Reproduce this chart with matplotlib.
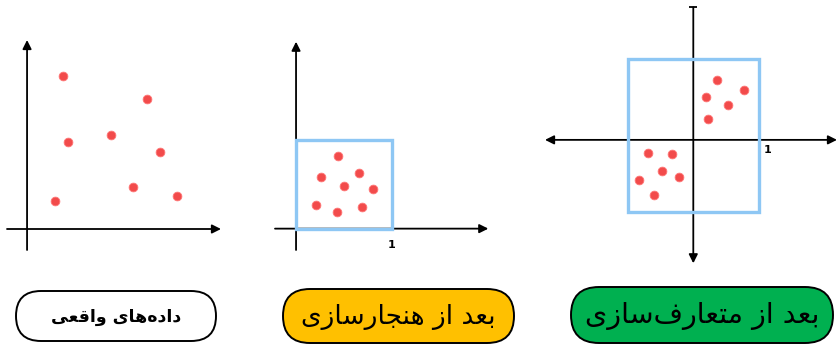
import matplotlib
matplotlib.use("Agg")
import matplotlib.pyplot as plt
from matplotlib.patches import Rectangle, FancyBboxPatch

# 数据
raw_x = [1.8, 6.0, 4.2, 2.05, 6.65, 5.3, 1.4, 7.5]
raw_y = [7.65, 6.5, 4.7, 4.35, 3.85, 2.1, 1.4, 1.65]

norm_x = [0.44, 0.26, 0.66, 0.50, 0.80, 0.21, 0.43, 0.69]
norm_y = [0.82, 0.58, 0.63, 0.48, 0.44, 0.27, 0.19, 0.24]

std_x = [0.365, 0.78, 0.19, 0.53, 0.23, -0.69, -0.33, -0.48, -0.22, -0.83, -0.60]
std_y = [0.78, 0.65, 0.56, 0.46, 0.28, -0.17, -0.18, -0.415, -0.49, -0.53, -0.73]

norm_box = [0, 1, 0, 1]          # x0, x1, y0, y1
std_box = [-1, 1, -0.95, 1.06]

labels = ["داده‌های واقعی", "بعد از هنجارسازی", "بعد از متعارف‌سازی"]
label_colors = ["white", "#FFC000", "#00B050"]

DOT = "#F24B4B"
BOX = "#8EC7F4"

# Arabic letter forms: isolated, final, initial, medial
FORMS = {
    "ا": ("\uFE8D", "\uFE8E", None, None),
    "ب": ("\uFE8F", "\uFE90", "\uFE91", "\uFE92"),
    "ت": ("\uFE95", "\uFE96", "\uFE97", "\uFE98"),
    "ج": ("\uFE9D", "\uFE9E", "\uFE9F", "\uFEA0"),
    "د": ("\uFEA9", "\uFEAA", None, None),
    "ر": ("\uFEAD", "\uFEAE", None, None),
    "ز": ("\uFEAF", "\uFEB0", None, None),
    "س": ("\uFEB1", "\uFEB2", "\uFEB3", "\uFEB4"),
    "ع": ("\uFEC9", "\uFECA", "\uFECB", "\uFECC"),
    "ف": ("\uFED1", "\uFED2", "\uFED3", "\uFED4"),
    "ق": ("\uFED5", "\uFED6", "\uFED7", "\uFED8"),
    "م": ("\uFEE1", "\uFEE2", "\uFEE3", "\uFEE4"),
    "ن": ("\uFEE5", "\uFEE6", "\uFEE7", "\uFEE8"),
    "ه": ("\uFEE9", "\uFEEA", "\uFEEB", "\uFEEC"),
    "و": ("\uFEED", "\uFEEE", None, None),
    "ی": ("\uFEEF", "\uFEF0", "\uFEF3", "\uFEF4"),
}


def shape(text):
    """手动连写 + 反向 (matplotlib has no RTL shaping)"""
    out = []
    for i, ch in enumerate(text):
        if ch not in FORMS:
            if ch != "\u200c":
                out.append(ch)
            continue
        prev = text[i - 1] if i > 0 else None
        nxt = text[i + 1] if i + 1 < len(text) else None
        jp = prev in FORMS and FORMS[prev][2] is not None
        jn = FORMS[ch][2] is not None and nxt in FORMS
        iso, fin, ini, med = FORMS[ch]
        if jp and jn:
            out.append(med)
        elif jp:
            out.append(fin)
        elif jn:
            out.append(ini)
        else:
            out.append(iso)
    return "".join(out[::-1])


W, H = 837, 346
fig = plt.figure(figsize=(W / 100, H / 100), dpi=100)


def add_ax(x0, y0, x1, y1, xlim, ylim):
    ax = fig.add_axes([x0 / W, 1 - y1 / H, (x1 - x0) / W, (y1 - y0) / H])
    ax.set_xlim(*xlim)
    ax.set_ylim(*ylim)
    ax.axis("off")
    return ax


def arrow(ax, tail, tip, style="-|>"):
    ax.annotate("", xy=tip, xytext=tail,
                arrowprops=dict(arrowstyle=style, color="black", lw=1.3,
                                mutation_scale=13, shrinkA=0, shrinkB=0),
                annotation_clip=False)


def dots(ax, xs, ys):
    ax.plot(xs, ys, "o", color=DOT, markersize=6.3, markeredgecolor="#F77",
            markeredgewidth=0.6, clip_on=False, zorder=5)


# 原始数据
ax1 = add_ax(7, 40, 221, 250, (-1.0, 9.67), (-1.05, 9.45))
arrow(ax1, (-1.0, 0), (9.67, 0))
arrow(ax1, (0, -1.05), (0, 9.45))
dots(ax1, raw_x, raw_y)

# 归一化
ax2 = add_ax(275, 41.7, 488.3, 250, (-0.22, 2.01), (-0.24, 2.10))
arrow(ax2, (-0.22, 0), (2.01, 0))
arrow(ax2, (0, -0.24), (0, 2.10))
ax2.add_patch(Rectangle((norm_box[0], norm_box[2]), norm_box[1] - norm_box[0],
                        norm_box[3] - norm_box[2], fill=False, ec=BOX, lw=2.4,
                        zorder=3))
dots(ax2, norm_x, norm_y)
ax2.text(1, -0.13, "1", ha="center", va="top", fontsize=8, fontweight="bold")

# 标准化
ax3 = add_ax(545, 7.3, 837, 263.3, (-2.26, 2.19), (-1.62, 1.74))
arrow(ax3, (-2.26, 0), (2.19, 0), "<|-|>")
arrow(ax3, (0, 1.74), (0, -1.62))
ax3.plot([0], [1.74], "_", color="black", markersize=6, mew=1.3, clip_on=False)
ax3.add_patch(Rectangle((std_box[0], std_box[2]), std_box[1] - std_box[0],
                        std_box[3] - std_box[2], fill=False, ec=BOX, lw=2.4,
                        zorder=3))
dots(ax3, std_x, std_y)
ax3.text(1.07, -0.07, "1", ha="left", va="top", fontsize=8, fontweight="bold")

# 标签
axl = fig.add_axes([0, 0, 1, 1])
axl.set_xlim(0, W)
axl.set_ylim(H, 0)
axl.axis("off")

pills = [(16, 216, 291, 341), (283, 514, 289, 343), (571, 833, 287, 343)]
sizes = [12.5, 19, 20.5]
weights = ["bold", "normal", "normal"]
for (x0, x1, y0, y1), lab, col, fs, fw in zip(pills, labels, label_colors, sizes, weights):
    r = (y1 - y0) / 2
    axl.add_patch(FancyBboxPatch((x0, y0), x1 - x0, y1 - y0,
                                 boxstyle=f"round,pad=0,rounding_size={r}",
                                 fc=col, ec="black", lw=1.4))
    axl.text((x0 + x1) / 2, (y0 + y1) / 2 + 1, shape(lab), ha="center",
             va="center", fontsize=fs, fontweight=fw, family="DejaVu Sans")

fig.savefig("out.png", dpi=100)
